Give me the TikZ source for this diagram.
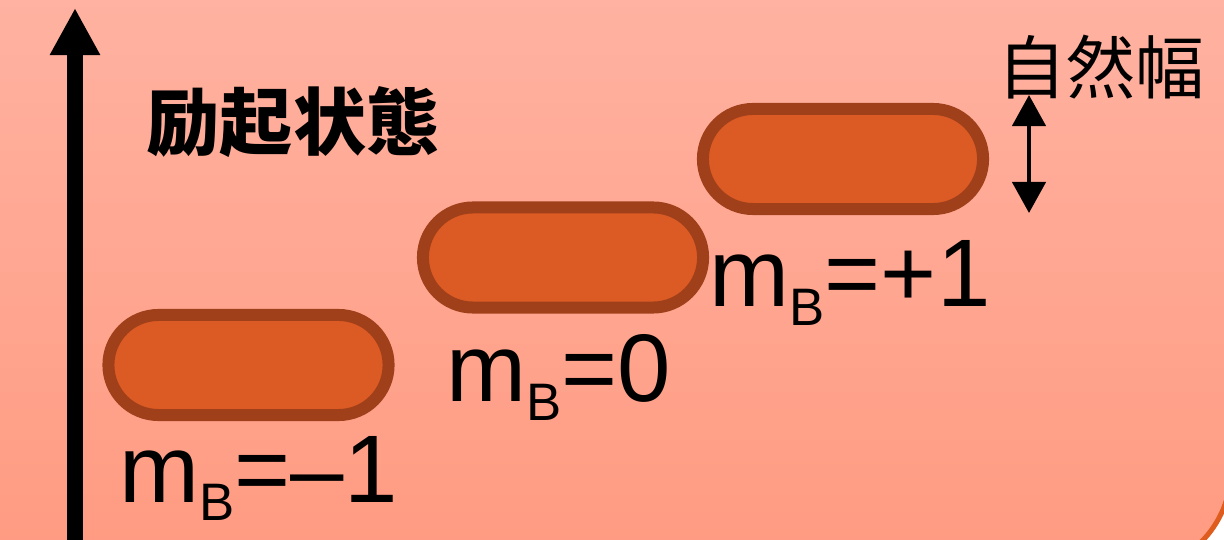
\documentclass[tikz,border=0pt]{standalone}
\usepackage{fontspec}
\setmainfont{Liberation Sans}
\newfontfamily\cjk{Noto Sans CJK JP}
\usetikzlibrary{arrows.meta,positioning}
\definecolor{bgtop}{RGB}{255,184,170}
\definecolor{bgbot}{RGB}{255,154,128}
\definecolor{lvlfill}{RGB}{220,90,36}
\definecolor{lvledge}{RGB}{160,64,26}
\definecolor{frameedge}{RGB}{222,92,30}
\newcommand{\mB}{m\raisebox{-0.18cm}{\fontsize{15}{15}\selectfont B}}

\begin{document}
\begin{tikzpicture}[
  x=0.01cm, y=-0.01cm,
  level/.style={rectangle, draw=lvledge, fill=lvlfill, line width=0.12cm,
    minimum width=2.8cm, minimum height=1cm, rounded corners=0.5cm, inner sep=0},
  mlabel/.style={anchor=base west, inner sep=0, font=\fontsize{27.3}{30}\selectfont},
  axis/.style={line width=0.15cm, -{Triangle[length=0.47cm, width=0.47cm]}},
  spread/.style={line width=0.045cm,
    {Triangle[length=0.31cm, width=0.33cm]}-{Triangle[length=0.31cm, width=0.33cm]}}
]
  \useasboundingbox (0,0) rectangle (1224,540);
  \begin{scope}
    \clip (0,0) rectangle (1224,540);
    \fill[white] (0,0) rectangle (1224,540);
    \shadedraw[top color=bgtop, bottom color=bgbot, draw=frameedge,
      line width=0.05cm, rounded corners=1.02cm] (-150,-150) rectangle (1231,572);
  \end{scope}

  % energy axis
  \coordinate (axbot) at (75,545);
  \coordinate (axtop) at (75,8);
  \draw[axis] (axbot) -- (axtop);

  \node[font=\cjk\bfseries\fontsize{20.8}{24}\selectfont, inner sep=0] (exc) at (293,122) {励起状態};

  % sublevels
  \node[level] (lvlm) at (248.5,365) {};
  \node[level] (lvlz) at (563,257.5) {};
  \node[level] (lvlp) at (843,159) {};

  \node[mlabel] (labm) at (119,502) {\mB=–1};
  \node[mlabel] (labz) at (446,402) {\mB=0};
  \node[mlabel] (labp) at (709,307) {\mB=+1};

  % natural width
  \node[font=\cjk\fontsize{19.6}{22}\selectfont, inner sep=0] (natw) at (1101,67) {自然幅};
  \coordinate (wtop) at (1029,95);
  \coordinate (wbot) at (1029,213);
  \draw[spread] (wtop) -- (wbot);
\end{tikzpicture}
\end{document}
